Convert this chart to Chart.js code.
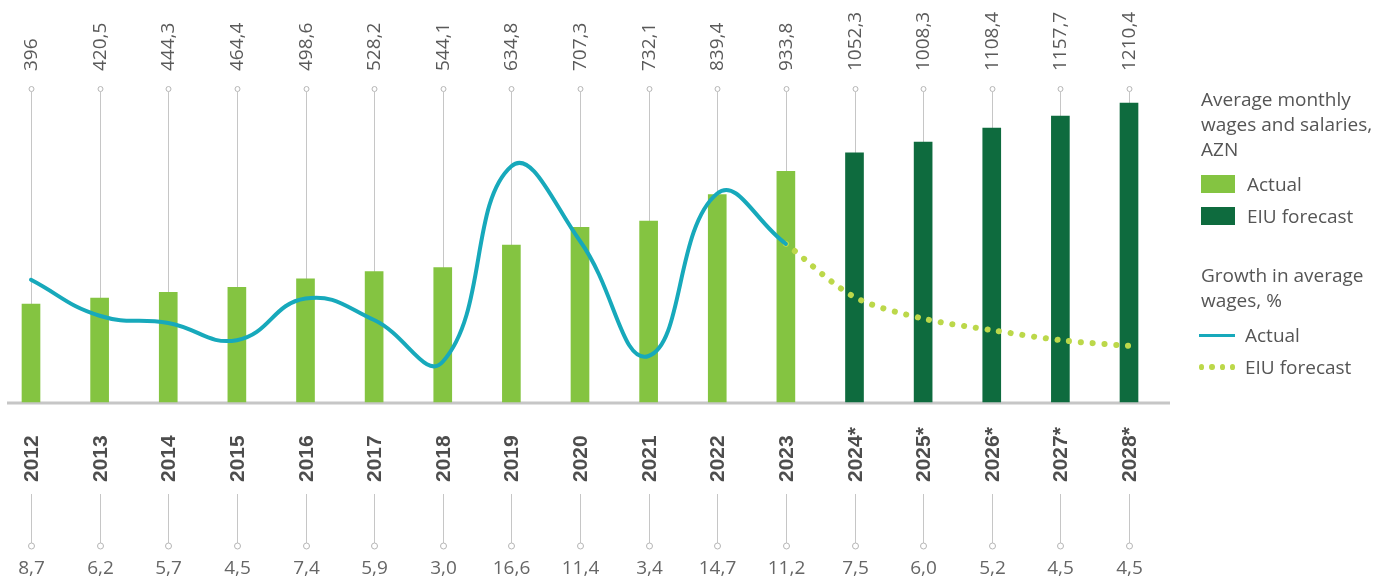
<!DOCTYPE html>
<html lang="en">
<head>
  <meta charset="UTF-8" />
  <title>Average monthly wages and salaries, AZN</title>
  <script src="https://cdn.jsdelivr.net/npm/chart.js"></script>
  <style>
    * { margin: 0; padding: 0; box-sizing: border-box; }
    body { background: #fff; font-family: 'Open Sans', sans-serif; color: #555; }
    .wrap { position: relative; width: 1392px; height: 580px; }
    #chart { position: absolute; left: 0; top: 0; }
    /* Legend */
    .legend { position: absolute; left: 1201px; top: 87px; width: 190px; font-size: 19px; line-height: 25px; color: #555; }
    .legend .title { margin-bottom: 6px; }
    .legend .item { display: flex; align-items: center; height: 32px; }
    .legend .sw { width: 34px; height: 18px; margin-right: 12px; }
    .legend .ln { width: 36px; height: 3px; background: #17a9bb; margin-right: 10px; margin-left: -2px; }
    .legend .dots { width: 36px; margin-right: 10px; margin-left: -2px; display: flex; gap: 5px; }
    .legend .dots span { width: 6px; height: 6px; border-radius: 50%; background: #bcd84a; }
    .legend .gap { height: 31px; }
  </style>
</head>
<body>
  <div class="wrap">
    <canvas id="chart" width="1392" height="580"></canvas>
    <div class="legend">
      <div class="title">Average monthly wages and salaries, AZN</div>
      <div class="item"><div class="sw" style="background:#84c441"></div>Actual</div>
      <div class="item"><div class="sw" style="background:#0e6b3e"></div>EIU forecast</div>
      <div class="gap"></div>
      <div class="title">Growth in average wages, %</div>
      <div class="item"><div class="ln"></div>Actual</div>
      <div class="item"><div class="dots"><span></span><span></span><span></span><span></span></div>EIU forecast</div>
    </div>
  </div>
  <script>
    // Data
    const years = ['2012', '2013', '2014', '2015', '2016', '2017', '2018', '2019', '2020', '2021', '2022', '2023', '2024*', '2025*', '2026*', '2027*', '2028*'];
    const wageActual = [396, 420.5, 444.3, 464.4, 498.6, 528.2, 544.1, 634.8, 707.3, 732.1, 839.4, 933.8, null, null, null, null, null];
    // bar heights as drawn in the picture (2024/2025 bars follow the drawn heights)
    const wageForecast = [null, null, null, null, null, null, null, null, null, null, null, null, 1008.3, 1052.3, 1108.4, 1157.7, 1210.4];
    const growthActual = [8.7, 6.2, 5.7, 4.5, 7.4, 5.9, 3.0, 16.6, 11.4, 3.4, 14.7, 11.2, null, null, null, null, null];
    const growthForecast = [null, null, null, null, null, null, null, null, null, null, null, 11.2, 7.5, 6.0, 5.2, 4.5, 4.1];
    // labels shown above / below each column
    const wageLabels = ['396', '420,5', '444,3', '464,4', '498,6', '528,2', '544,1', '634,8', '707,3', '732,1', '839,4', '933,8', '1052,3', '1008,3', '1108,4', '1157,7', '1210,4'];
    const growthLabels = ['8,7', '6,2', '5,7', '4,5', '7,4', '5,9', '3,0', '16,6', '11,4', '3,4', '14,7', '11,2', '7,5', '6,0', '5,2', '4,5', '4,5'];

    const GREY = '#c6c6c6';

    // Draws baseline, guide lines, circles and all text labels
    const annotations = {
      id: 'annotations',
      beforeDatasetsDraw(chart) {
        const { ctx, scales: { x }, chartArea } = chart;
        const base = chartArea.bottom;
        ctx.save();
        ctx.strokeStyle = GREY;
        ctx.lineWidth = 1;
        years.forEach((_, i) => {
          const px = Math.round(x.getPixelForValue(i)) + 0.5;
          ctx.beginPath();
          ctx.moveTo(px, 92);
          ctx.lineTo(px, base);
          ctx.stroke();
        });
        ctx.lineWidth = 3;
        ctx.beginPath();
        ctx.moveTo(7, base + 1);
        ctx.lineTo(1170, base + 1);
        ctx.stroke();
        ctx.restore();
      },
      afterDraw(chart) {
        const { ctx, scales: { x } } = chart;
        ctx.save();
        years.forEach((yr, i) => {
          const px = Math.round(x.getPixelForValue(i)) + 0.5;
          // top circle
          ctx.strokeStyle = '#b5b5b5';
          ctx.fillStyle = '#fff';
          ctx.lineWidth = 1;
          ctx.beginPath();
          ctx.arc(px, 89, 2.5, 0, Math.PI * 2);
          ctx.fill();
          ctx.stroke();
          // bottom guide and circle
          ctx.strokeStyle = GREY;
          ctx.beginPath();
          ctx.moveTo(px, 494);
          ctx.lineTo(px, 543);
          ctx.stroke();
          ctx.strokeStyle = '#b5b5b5';
          ctx.beginPath();
          ctx.arc(px, 546, 3, 0, Math.PI * 2);
          ctx.fill();
          ctx.stroke();

          // rotated wage label
          ctx.fillStyle = '#5a5a5a';
          ctx.font = '19px "Open Sans"';
          ctx.textBaseline = 'middle';
          ctx.textAlign = 'left';
          ctx.save();
          ctx.translate(px, 71);
          ctx.rotate(-Math.PI / 2);
          ctx.fillText(wageLabels[i], 0, 0);
          ctx.restore();

          // rotated year label
          ctx.fillStyle = '#4d4d4d';
          ctx.font = 'bold 21px "Liberation Sans"';
          ctx.save();
          ctx.translate(px, 482);
          ctx.rotate(-Math.PI / 2);
          ctx.fillText(yr, 0, 1);
          ctx.restore();

          // growth value
          ctx.fillStyle = '#666';
          ctx.font = '19px "Open Sans"';
          ctx.textAlign = 'center';
          ctx.textBaseline = 'alphabetic';
          ctx.fillText(growthLabels[i], px, 574);
        });
        ctx.restore();
      }
    };

    new Chart(document.getElementById('chart'), {
      data: {
        labels: years,
        datasets: [
          {
            type: 'line',
            data: growthActual,
            yAxisID: 'y1',
            borderColor: '#17a9bb',
            borderWidth: 4,
            pointRadius: 0,
            tension: 0.45,
            borderCapStyle: 'round',
            clip: false,
            order: 0
          },
          {
            type: 'line',
            data: growthForecast,
            yAxisID: 'y1',
            borderColor: '#bcd84a',
            borderWidth: 6,
            borderDash: [0.1, 11.7],
            borderCapStyle: 'round',
            pointRadius: 0,
            tension: 0.3,
            clip: false,
            order: 1
          },
          {
            type: 'bar',
            data: wageActual,
            yAxisID: 'y',
            backgroundColor: '#84c441',
            barThickness: 18,
            grouped: false,
            clip: false,
            order: 2
          },
          {
            type: 'bar',
            data: wageForecast,
            yAxisID: 'y',
            backgroundColor: '#0e6b3e',
            barThickness: 18,
            grouped: false,
            clip: false,
            order: 2
          }
        ]
      },
      options: {
        responsive: false,
        animation: false,
        layout: { padding: { left: 31, right: 263, top: 90, bottom: 178 } },
        plugins: { legend: { display: false }, tooltip: { enabled: false } },
        scales: {
          x: { type: 'category', offset: false, display: false },
          y: { display: false, min: 0, max: 1263 },
          y1: { display: false, min: 0.2, max: 21.9 }
        }
      },
      plugins: [annotations]
    });
  </script>
</body>
</html>
